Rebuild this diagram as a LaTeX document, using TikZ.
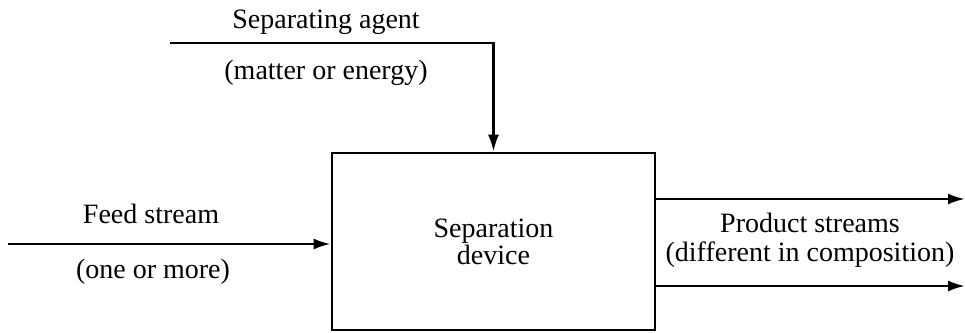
\documentclass[tikz,border=0pt]{standalone}
\usepackage{fontspec}
\setmainfont{Liberation Serif}
\usetikzlibrary{arrows.meta}
\begin{document}
\begin{tikzpicture}[x=1pt,y=-1pt,
  line width=2.6pt,
  flow/.style={-{Latex[length=17pt,width=11pt]}},
  lbl/.style={inner sep=0pt,font=\fontsize{28}{32}\selectfont},
  devbox/.style={draw,minimum width=323pt,minimum height=177pt,inner sep=0pt,align=center,font=\fontsize{28}{30}\selectfont}]
\useasboundingbox (0,0) rectangle (965,332);
\node[devbox] (dev) at (493.5,241.5) {Separation\\[-3pt]device};
% separating agent
\coordinate (agentstart) at (170,43);
\coordinate (agentcorner) at (dev.north |- agentstart);
\draw[flow,line join=miter] (agentstart) -- (agentcorner) -- (dev.north);
\node[lbl] (agent) at (326,22) {Separating agent};
\node[lbl] (agentsub) at (326,73) {(matter or energy)};
% feed
\coordinate (feedstart) at (8,244);
\draw[flow] (feedstart) -- (dev.west |- feedstart);
\node[lbl] (feed) at (151,214) {Feed stream};
\node[lbl] (feedsub) at (153,272) {(one or more)};
% products
\coordinate (prodA) at (965,199);
\coordinate (prodB) at (965,286);
\draw[flow] (dev.east |- prodA) -- (prodA);
\draw[flow] (dev.east |- prodB) -- (prodB);
\node[lbl] (prod) at (810,223) {Product streams};
\node[lbl] (prodsub) at (810,255) {(different in composition)};
\end{tikzpicture}
\end{document}
